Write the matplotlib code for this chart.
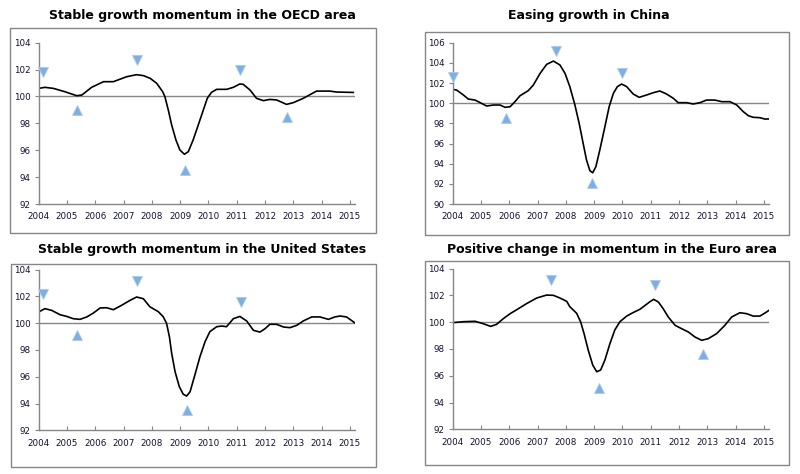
import matplotlib
matplotlib.use("Agg")
import matplotlib.pyplot as plt
from matplotlib.patches import Rectangle

# ---------------- data ----------------
titles = ["Stable growth momentum in the OECD area",
          "Easing growth in China",
          "Stable growth momentum in the United States",
          "Positive change in momentum in the Euro area"]

year_ticks = list(range(2004, 2016))

oecd_x = [2004.00, 2004.22, 2004.52, 2004.93, 2005.34, 2005.52, 2005.87, 2006.29, 2006.64,
          2007.11, 2007.46, 2007.70, 2007.94, 2008.17, 2008.38, 2008.46, 2008.58, 2008.70,
          2008.85, 2008.99, 2009.15, 2009.29, 2009.46, 2009.64, 2009.82, 2009.96, 2010.11,
          2010.29, 2010.64, 2010.88, 2011.11, 2011.23, 2011.47, 2011.70, 2011.94,
          2012.17, 2012.41, 2012.76, 2013.00, 2013.35, 2013.82, 2014.29, 2014.53, 2015.12]
oecd_y = [100.60, 100.68, 100.60, 100.35, 100.06, 100.10, 100.68, 101.10, 101.10,
          101.47, 101.62, 101.55, 101.35, 100.98, 100.36, 99.99, 99.00, 97.88,
          96.77, 96.02, 95.70, 95.90, 96.77, 97.88, 99.00, 99.87, 100.31,
          100.53, 100.53, 100.68, 100.93, 100.90, 100.48, 99.86, 99.69,
          99.78, 99.74, 99.41, 99.54, 99.86, 100.40, 100.40, 100.33, 100.30]
oecd_down = ([2004.16, 2007.46, 2011.13], [101.8, 102.7, 102.0])
oecd_up = ([2005.36, 2009.17, 2012.76], [99.0, 94.5, 98.45])

china_x = [2004.00, 2004.14, 2004.38, 2004.55, 2004.79, 2005.02, 2005.20, 2005.44, 2005.67,
           2005.85, 2006.03, 2006.20, 2006.38, 2006.67, 2006.85, 2007.09, 2007.32, 2007.56,
           2007.79, 2007.97, 2008.14, 2008.32, 2008.47, 2008.61, 2008.73, 2008.85, 2008.95,
           2009.06, 2009.20, 2009.38, 2009.53, 2009.68, 2009.82, 2009.97, 2010.15, 2010.38,
           2010.59, 2010.85, 2011.09, 2011.32, 2011.56, 2011.80, 2011.97, 2012.27, 2012.50,
           2012.74, 2012.97, 2013.27, 2013.51, 2013.80, 2014.04, 2014.27, 2014.45, 2014.62,
           2014.86, 2015.03, 2015.18]
china_y = [101.37, 101.30, 100.81, 100.41, 100.31, 99.98, 99.72, 99.82, 99.82,
           99.59, 99.65, 100.15, 100.74, 101.24, 101.80, 102.96, 103.85, 104.18,
           103.79, 102.96, 101.64, 99.82, 98.00, 96.02, 94.36, 93.30, 93.10,
           93.70, 95.36, 97.67, 99.65, 100.98, 101.64, 101.90, 101.64, 100.91,
           100.58, 100.81, 101.04, 101.21, 100.91, 100.48, 100.05, 100.05, 99.92,
           100.05, 100.31, 100.31, 100.15, 100.15, 99.82, 99.16, 98.76, 98.60,
           98.56, 98.43, 98.43]
china_down = ([2004.00, 2007.64, 2010.00], [102.56, 105.2, 103.0])
china_up = ([2005.88, 2008.94], [98.5, 92.05])

us_x = [2004.00, 2004.22, 2004.46, 2004.75, 2004.99, 2005.22, 2005.46, 2005.70, 2005.93,
        2006.17, 2006.40, 2006.64, 2006.93, 2007.23, 2007.46, 2007.70, 2007.93, 2008.23,
        2008.40, 2008.52, 2008.62, 2008.70, 2008.82, 2008.97, 2009.11, 2009.23, 2009.35,
        2009.52, 2009.70, 2009.88, 2010.05, 2010.29, 2010.47, 2010.64, 2010.88, 2011.11,
        2011.35, 2011.59, 2011.82, 2012.00, 2012.17, 2012.41, 2012.65, 2012.88, 2013.12,
        2013.35, 2013.65, 2013.94, 2014.24, 2014.47, 2014.65, 2014.88, 2015.18]
us_y = [100.84, 101.09, 100.96, 100.64, 100.51, 100.34, 100.29, 100.47, 100.76,
        101.14, 101.16, 101.01, 101.34, 101.71, 101.96, 101.83, 101.23, 100.86,
        100.49, 99.99, 98.99, 97.75, 96.38, 95.26, 94.69, 94.56, 94.88,
        96.13, 97.50, 98.62, 99.37, 99.74, 99.79, 99.74, 100.34, 100.51,
        100.17, 99.47, 99.34, 99.59, 99.92, 99.92, 99.72, 99.67, 99.84,
        100.17, 100.47, 100.47, 100.29, 100.47, 100.54, 100.47, 100.02]
us_down = ([2004.16, 2007.46, 2011.14], [102.16, 103.13, 101.59])
us_up = ([2005.37, 2009.25], [99.15, 93.54])

euro_x = [2004.00, 2004.38, 2004.79, 2005.08, 2005.34, 2005.55, 2005.79, 2006.03, 2006.32,
          2006.61, 2006.97, 2007.32, 2007.56, 2007.79, 2008.03, 2008.14, 2008.38, 2008.52,
          2008.64, 2008.79, 2008.95, 2009.09, 2009.23, 2009.38, 2009.56, 2009.73, 2009.91,
          2010.15, 2010.33, 2010.62, 2010.97, 2011.10, 2011.27, 2011.44, 2011.62, 2011.86,
          2012.09, 2012.33, 2012.56, 2012.80, 2013.03, 2013.33, 2013.62, 2013.86, 2014.15,
          2014.39, 2014.62, 2014.86, 2015.09, 2015.18]
euro_y = [99.97, 100.04, 100.07, 99.89, 99.69, 99.84, 100.27, 100.64, 101.01,
          101.39, 101.81, 102.03, 102.01, 101.81, 101.56, 101.16, 100.67, 100.04,
          99.17, 97.92, 96.80, 96.30, 96.43, 97.18, 98.42, 99.42, 100.04,
          100.46, 100.67, 100.97, 101.53, 101.71, 101.51, 101.01, 100.39, 99.77,
          99.52, 99.27, 98.90, 98.65, 98.77, 99.15, 99.77, 100.39, 100.71,
          100.64, 100.46, 100.46, 100.76, 100.89]
euro_down = ([2007.46, 2011.15], [103.13, 102.81])
euro_up = ([2009.17, 2012.86], [95.11, 97.60])

oecd_yticks = [92, 94, 96, 98, 100, 102, 104]
china_yticks = [90, 92, 94, 96, 98, 100, 102, 104, 106]
us_yticks = [92, 94, 96, 98, 100, 102, 104]
euro_yticks = [92, 94, 96, 98, 100, 102, 104]

# ---------------- layout (pixels) ----------------
W, H = 800, 474
fig = plt.figure(figsize=(W / 100, H / 100), dpi=100)

GREY = "#868686"
MARK = "#7FAEE0"

panels = [
    dict(title=titles[0], x=oecd_x, y=oecd_y, dn=oecd_down, up=oecd_up, yt=oecd_yticks,
         ax=(38.7, 355, 42.7, 204), frame=(10, 376, 28, 233), tpos=(202, 15)),
    dict(title=titles[1], x=china_x, y=china_y, dn=china_down, up=china_up, yt=china_yticks,
         ax=(452.7, 769, 42.7, 204), frame=(425, 789, 32, 235), tpos=(589, 15)),
    dict(title=titles[2], x=us_x, y=us_y, dn=us_down, up=us_up, yt=us_yticks,
         ax=(38.7, 355, 269.7, 430.3), frame=(11, 376, 264, 467), tpos=(202, 250)),
    dict(title=titles[3], x=euro_x, y=euro_y, dn=euro_down, up=euro_up, yt=euro_yticks,
         ax=(452.7, 769, 268.7, 429.3), frame=(425, 789, 261, 465), tpos=(612, 250)),
]

for p in panels:
    fl, fr, ft, fb = p["frame"]
    fig.patches.append(Rectangle((fl / W, 1 - fb / H), (fr - fl) / W, (fb - ft) / H,
                                 transform=fig.transFigure, fill=False,
                                 edgecolor=GREY, linewidth=1.0))
    l, r, t, b = p["ax"]
    ax = fig.add_axes([l / W, 1 - b / H, (r - l) / W, (b - t) / H])
    ax.set_facecolor("none")
    ax.set_xlim(2004, 2015.18)
    ax.set_ylim(p["yt"][0], p["yt"][-1])
    ax.axhline(100, color=GREY, linewidth=1.0, zorder=1)
    ax.plot(p["x"], p["y"], color="black", linewidth=1.2, zorder=2,
            solid_joinstyle="round", antialiased=True)
    ax.plot(p["dn"][0], p["dn"][1], linestyle="none", marker="v", markersize=7.5,
            color=MARK, markeredgecolor="#A9CBEE", markeredgewidth=0.6, zorder=3, clip_on=False)
    ax.plot(p["up"][0], p["up"][1], linestyle="none", marker="^", markersize=7.5,
            color=MARK, markeredgecolor="#A9CBEE", markeredgewidth=0.6, zorder=3, clip_on=False)
    ax.set_xticks(year_ticks)
    ax.set_xticklabels([str(v) for v in year_ticks])
    ax.set_yticks(p["yt"])
    ax.set_yticklabels([str(v) for v in p["yt"]])
    for s in ["top", "right"]:
        ax.spines[s].set_visible(False)
    for s in ["left", "bottom"]:
        ax.spines[s].set_color(GREY)
        ax.spines[s].set_linewidth(1.0)
    ax.tick_params(axis="x", direction="in", length=3, color=GREY, labelsize=6.3,
                   pad=6, labelcolor="#111133")
    ax.tick_params(axis="y", direction="out", length=3, color=GREY, labelsize=6.3,
                   pad=3, labelcolor="#111133")
    fig.text(p["tpos"][0] / W, 1 - p["tpos"][1] / H, p["title"], ha="center", va="center",
             fontsize=9.0, fontweight="bold", color="black")

fig.savefig("out.png", dpi=100)
